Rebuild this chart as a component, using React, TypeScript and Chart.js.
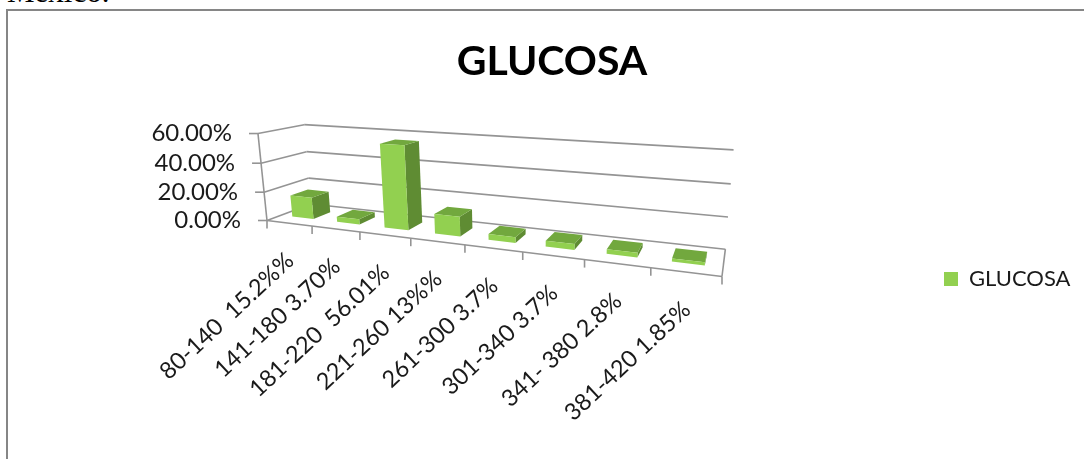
import React, { useEffect, useRef } from "react";
import { Chart } from "chart.js/auto";

const categories = [
  "80-140  15.2%%",
  "141-180 3.70%",
  "181-220  56.01%",
  "221-260 13%%",
  "261-300 3.7%",
  "301-340 3.7%",
  "341- 380 2.8%",
  "381-420 1.85%",
];
const seriesName = "GLUCOSA";
const glucosa = [15.2, 3.7, 56.01, 13, 3.7, 3.7, 2.8, 1.85];
const yMax = 60;
const yStep = 20;

const FONT = "Lato, 'Open Sans', sans-serif";
const FRONT = "#92D050";
const TOP = "#72a83e";
const SIDE = "#5f8c33";
const AXIS = "#949494";
const TEXT = "#1a1a1a";

// Perspective box of the "3D" plot
const A = [267, 220.5];
const B = [722, 276.5];
const D = [311, 204];
const G = -0.23;
const H = 0.1;
const I = -0.034;
const CX = -17.8;
const CY = -91.5;
const a = B[0] - A[0] + G * B[0];
const d = B[1] - A[1] + G * B[1];
const b = D[0] - A[0] + H * D[0];
const e = D[1] - A[1] + H * D[1];

function project(u: number, v: number, t: number): [number, number] {
  const w = 1 + G * u + H * v + I * t;
  return [(A[0] + a * u + b * v + CX * t) / w, (A[1] + d * u + e * v + CY * t) / w];
}

const BAR_FRONT = 0.3;
const BAR_BACK = 0.7;

function line(ctx: CanvasRenderingContext2D, p: number[], q: number[]) {
  ctx.beginPath();
  ctx.moveTo(p[0], p[1]);
  ctx.lineTo(q[0], q[1]);
  ctx.stroke();
}
function poly(ctx: CanvasRenderingContext2D, pts: number[][], fill: string) {
  ctx.beginPath();
  pts.forEach((p, i) => (i ? ctx.lineTo(p[0], p[1]) : ctx.moveTo(p[0], p[1])));
  ctx.closePath();
  ctx.fillStyle = fill;
  ctx.fill();
}

const box3d = {
  id: "box3d",
  afterLayout(chart: any) {
    const lg = chart.legend;
    lg.left = 934;
    lg.right = 1090;
    lg.top = 258;
    lg.bottom = 320;
  },
  beforeDatasetsDraw(chart: any) {
    const { ctx, scales } = chart;
    const y = scales.y;
    const x = scales.x;
    const frac = (val: number) => (y.bottom - y.getPixelForValue(val)) / (y.bottom - y.top);
    ctx.save();
    ctx.strokeStyle = AXIS;
    ctx.lineWidth = 1.6;
    // gridlines on the side wall and the back wall, with stubs and labels
    ctx.font = `24px ${FONT}`;
    ctx.fillStyle = TEXT;
    ctx.textAlign = "right";
    ctx.textBaseline = "middle";
    y.ticks.forEach((tk: any) => {
      const t = frac(tk.value);
      const p0 = project(0, 0, t);
      const p1 = project(0, 1, t);
      const p2 = project(1, 1, t);
      line(ctx, p0, p1);
      line(ctx, p1, p2);
      line(ctx, [p0[0] - 9, p0[1]], p0);
      ctx.fillText(`${tk.value.toFixed(2)}%`, p0[0] - 26, p0[1]);
    });
    // axes
    line(ctx, project(0, 0, 0), project(0, 0, 1));
    line(ctx, project(0, 0, 0), project(1, 0, 0));
    line(ctx, project(1, 0, 0), project(1, 1, 0));
    // category ticks and labels
    const n = x.ticks.length;
    for (let i = 0; i <= n; i++) {
      const p = project(i / n, 0, 0);
      line(ctx, p, [p[0], p[1] + 8]);
    }
    ctx.font = `23.5px ${FONT}`;
    x.ticks.forEach((_: any, i: number) => {
      const u = (x.getPixelForTick(i) - x.left) / (x.right - x.left);
      const p = project(u, 0, 0);
      ctx.save();
      ctx.translate(p[0] + 1, p[1] + 34);
      ctx.rotate((-43 * Math.PI) / 180);
      ctx.fillText(x.getLabelForValue(i), 0, 0);
      ctx.restore();
    });
    ctx.restore();
  },
  beforeDatasetDraw(chart: any, args: any) {
    const { ctx, scales } = chart;
    const meta = args.meta;
    const xs = scales.x;
    const ys = scales.y;
    ctx.save();
    meta.data.forEach((bar: any) => {
      const u0 = (bar.x - bar.width / 2 - xs.left) / xs.width;
      const u1 = (bar.x + bar.width / 2 - xs.left) / xs.width;
      const t = (ys.bottom - bar.y) / (ys.bottom - ys.top);
      const fbl = project(u0, BAR_FRONT, 0);
      const fbr = project(u1, BAR_FRONT, 0);
      const ftl = project(u0, BAR_FRONT, t);
      const ftr = project(u1, BAR_FRONT, t);
      const bbr = project(u1, BAR_BACK, 0);
      const btl = project(u0, BAR_BACK, t);
      const btr = project(u1, BAR_BACK, t);
      poly(ctx, [fbr, bbr, btr, ftr], SIDE);
      poly(ctx, [ftl, ftr, btr, btl], TOP);
      poly(ctx, [fbl, fbr, ftr, ftl], FRONT);
    });
    ctx.restore();
    return false;
  },
};

export default function App() {
  const ref = useRef<HTMLCanvasElement>(null);
  useEffect(() => {
    const chart = new Chart(ref.current!, {
      type: "bar",
      data: {
        labels: categories,
        datasets: [
          {
            label: seriesName,
            data: glucosa,
            backgroundColor: FRONT,
            barPercentage: 0.48,
            categoryPercentage: 1,
          },
        ],
      },
      options: {
        animation: false,
        responsive: false,
        maintainAspectRatio: false,
        plugins: {
          title: {
            display: true,
            text: "GLUCOSA",
            color: "#000000",
            font: { family: FONT, size: 41, weight: "bold" },
            padding: { top: 37, bottom: 10 },
          },
          legend: {
            position: "right",
            align: "start",
            labels: {
              boxWidth: 14,
              boxHeight: 14,
              padding: 10,
              color: TEXT,
              font: { family: FONT, size: 22 },
            },
          },
          tooltip: { enabled: false },
        },
        scales: {
          x: { display: false },
          y: { display: false, min: 0, max: yMax, ticks: { stepSize: yStep } },
        },
      },
      plugins: [box3d],
    } as any);
    return () => chart.destroy();
  }, []);
  return (
    <div style={{ position: "absolute", left: 0, top: 0, width: 1084, height: 459, overflow: "hidden", background: "#fff" }}>
      <div
        style={{
          position: "absolute",
          left: 7,
          top: -24,
          fontFamily: "'Liberation Serif', serif",
          fontSize: 31,
          lineHeight: "31px",
          color: "#000",
          whiteSpace: "nowrap",
        }}
      >
        Mexico.
      </div>
      <div
        style={{
          position: "absolute",
          left: 6,
          top: 9,
          width: 1200,
          height: 600,
          border: "2px solid #868686",
        }}
      />
      <canvas ref={ref} width={1104} height={459} style={{ position: "absolute", left: 0, top: 0 }} />
    </div>
  );
}
